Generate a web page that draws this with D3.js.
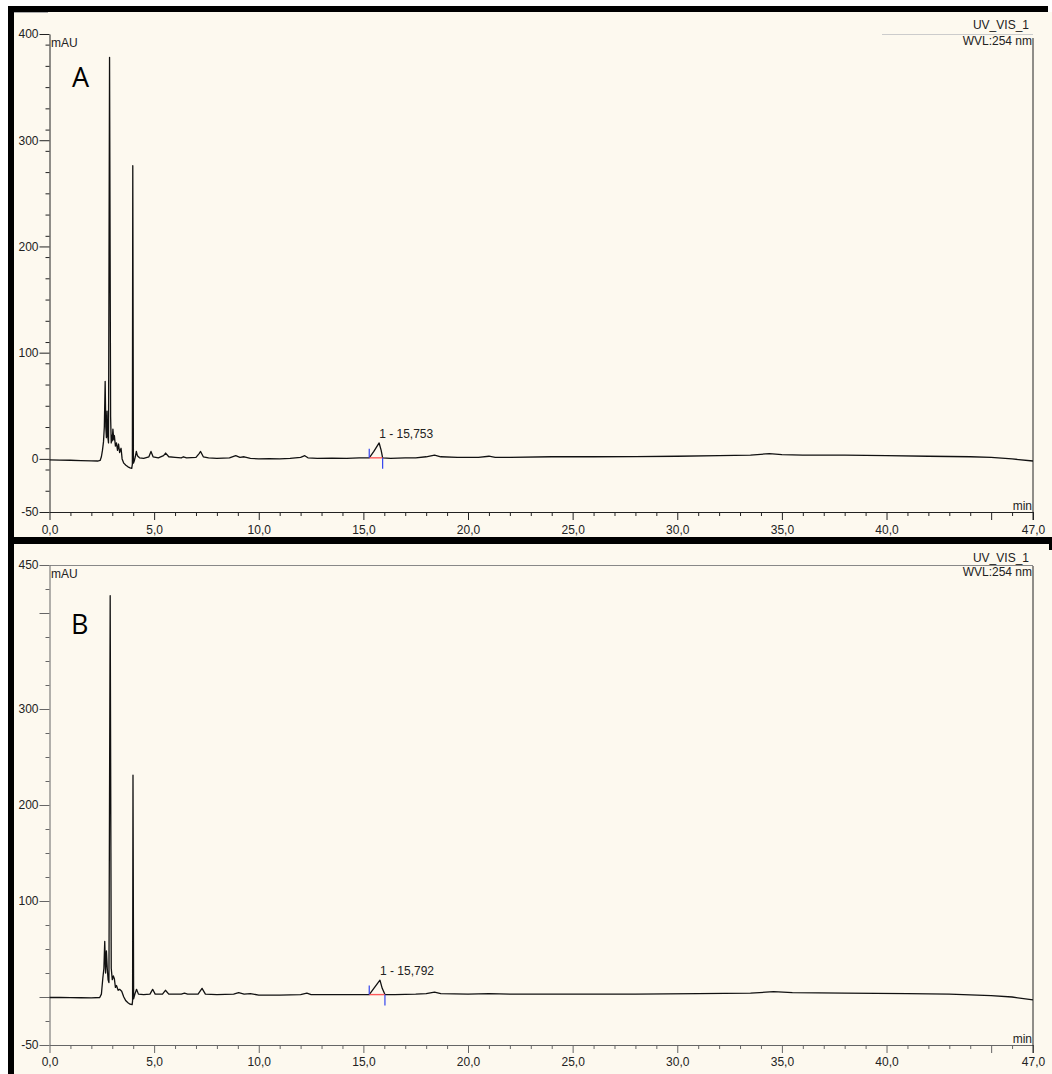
<!DOCTYPE html>
<html>
<head>
<meta charset="utf-8">
<script src="https://cdn.jsdelivr.net/npm/d3@7"></script>
<style>
  html, body { margin: 0; padding: 0; background: #fff; }
  svg { display: block; }
  .tick text { font-family: "Liberation Sans", Arial, sans-serif; font-size: 12px; fill: #222; }
  .lbl { font-family: "Liberation Sans", Arial, sans-serif; font-size: 12px; fill: #222; }
</style>
</head>
<body>
<div id="chart"></div>
<script>
// run A, time (min) / absorbance (mAU)
const traceA = [
  [0.0, -1], [0.5, -1.2], [1.0, -1.3], [1.5, -1.6], [2.0, -1.8], [2.3, -2], [2.42, -1.5],
  [2.48, 2], [2.53, 8], [2.58, 16], [2.62, 30], [2.66, 73], [2.69, 30], [2.72, 20], [2.75, 45],
  [2.78, 22], [2.82, 15], [2.87, 378], [2.92, 40], [2.95, 15], [2.98, 22], [3.0, 17], [3.03, 28],
  [3.07, 18], [3.1, 22], [3.15, 12], [3.2, 15], [3.25, 8], [3.3, 14], [3.35, 6], [3.42, 10],
  [3.47, 0], [3.55, -4], [3.65, -6], [3.75, -7.5], [3.85, -8.5], [3.93, -9], [3.96, -5],
  [3.98, 276], [4.01, -4], [4.05, -2], [4.1, 2], [4.15, 7], [4.2, 3], [4.3, 1], [4.5, 0.5],
  [4.75, 2], [4.85, 7], [4.95, 2], [5.2, 1], [5.45, 3], [5.55, 5.5], [5.7, 2], [6.0, 1.5],
  [6.3, 1], [6.4, 2], [6.55, 1], [7.0, 1.5], [7.15, 5], [7.22, 7], [7.35, 2], [7.6, 1],
  [8.0, 0.5], [8.6, 1], [8.9, 3], [9.1, 1.5], [9.3, 2], [9.6, 0.5], [10.0, 0], [10.5, 0.3],
  [11.0, 0], [11.5, 0.5], [12.0, 1.5], [12.2, 3], [12.35, 1], [12.8, 0.5], [13.5, 0.8],
  [14.2, 0.5], [14.8, 1], [15.28, 1], [15.5, 7], [15.753, 15], [15.85, 8], [15.92, 1],
  [16.3, 0.5], [17.0, 1], [17.5, 1], [18.0, 2], [18.4, 3.5], [18.7, 2], [19.5, 1.5],
  [20.5, 1.5], [21.0, 2.5], [21.3, 1.5], [22.0, 1.5], [24.0, 2], [26.0, 2], [28.0, 2.2],
  [30.0, 2.5], [32.0, 3], [33.5, 3.5], [34.4, 5], [35.0, 4], [36.0, 3.5], [38.0, 3.5],
  [40.0, 3], [42.0, 2.5], [44.0, 2], [45.0, 1.5], [46.0, 0], [47.0, -2]
];

// run B
const traceB = [
  [0.0, -0.5], [0.5, -0.5], [1.0, -0.7], [1.5, -0.8], [2.0, -1], [2.4, -0.5], [2.48, 3],
  [2.55, 20], [2.6, 30], [2.64, 58], [2.68, 25], [2.72, 48], [2.76, 30], [2.8, 18], [2.84, 15],
  [2.9, 418], [2.95, 30], [3.0, 18], [3.05, 22], [3.1, 19], [3.15, 10], [3.2, 12], [3.28, 7],
  [3.35, 8], [3.45, 6], [3.55, 0], [3.65, -4], [3.75, -6], [3.85, -7.5], [3.95, -8], [3.97, -4],
  [3.99, 231], [4.02, -2], [4.08, 3], [4.16, 8], [4.25, 3], [4.5, 2.5], [4.8, 3], [4.93, 8],
  [5.05, 3], [5.4, 3], [5.54, 7], [5.7, 3], [6.3, 3], [6.45, 4], [6.6, 3], [7.1, 3], [7.29, 9],
  [7.45, 3], [8.0, 2.5], [8.8, 3], [9.04, 4.5], [9.3, 3], [9.6, 3.5], [10.0, 2], [11.0, 2],
  [12.0, 2.5], [12.3, 4], [12.5, 2.5], [13.5, 2.5], [14.5, 2.5], [15.28, 2.5], [15.5, 9],
  [15.792, 17.5], [15.9, 9], [16.03, 2.5], [16.5, 2.5], [17.5, 3], [18.0, 3.5], [18.4, 5],
  [18.7, 3.5], [20.0, 3], [21.0, 3.5], [22.0, 3], [25.0, 3], [28.0, 3], [31.0, 3.5],
  [33.5, 4], [34.6, 5.5], [35.5, 4.5], [38.0, 4], [41.0, 3.5], [43.0, 3], [45.0, 1.5],
  [46.0, 0], [47.0, -3]
];

// integrated peaks: label, retention time, start/end of integration
const peakA = { label: "1 - 15,753", rt: 15.753, start: 15.28, end: 15.92 };
const peakB = { label: "1 - 15,792", rt: 15.792, start: 15.28, end: 16.03 };

const xMajor = [0, 5, 10, 15, 20, 25, 30, 35, 40, 45, 47];
const xLabelled = [0, 5, 10, 15, 20, 25, 30, 35, 40, 47];

const yMajorA = [-50, 0, 100, 200, 300, 400];
const yLabelA = [-50, 0, 100, 200, 300, 400];
const yMajorB = [-50, 0, 100, 200, 300, 400, 450];
const yLabelB = [-50, 100, 200, 300, 450];

const W = 1052, H = 1074;
const svg = d3.select("#chart").append("svg").attr("width", W).attr("height", H);

// panel backgrounds and the black frame
svg.append("rect").attr("x", 0).attr("y", 0).attr("width", W).attr("height", H).attr("fill", "#fff");
svg.append("rect").attr("x", 14).attr("y", 12).attr("width", W - 14).attr("height", 525).attr("fill", "#fdf9ef");
svg.append("rect").attr("x", 14).attr("y", 544).attr("width", W - 14).attr("height", H - 544).attr("fill", "#fdf9ef");
svg.append("line").attr("x1", 14).attr("x2", 48).attr("y1", 12.5).attr("y2", 12.5).attr("stroke", "#aaa");
svg.append("rect").attr("x", 8).attr("y", 6).attr("width", 1040).attr("height", 6).attr("fill", "#000");
svg.append("rect").attr("x", 8).attr("y", 6).attr("width", 6).attr("height", H - 6).attr("fill", "#000");
svg.append("rect").attr("x", 8).attr("y", 537).attr("width", W - 8).attr("height", 7).attr("fill", "#000");
svg.append("rect").attr("x", 1049).attr("y", 544).attr("width", 3).attr("height", 6).attr("fill", "#000");

const xFmt = d => xLabelled.includes(d) ? d.toFixed(1).replace(".", ",") : "";

function drawPanel(p) {
  const g = svg.append("g");
  const x = d3.scaleLinear().domain([0, 47]).range([49.5, 1033]);
  const y = d3.scaleLinear().domain(p.yDomain).range([p.yBottom, p.yTop]);

  // separator line at top of panel
  g.append("line")
    .attr("x1", p.topLineFrom).attr("x2", 1033)
    .attr("y1", p.topLineY).attr("y2", p.topLineY)
    .attr("stroke", p.topLineColor).attr("stroke-width", 1);

  // minor ticks
  const yMinor = d3.range(p.yDomain[0], p.yDomain[1], p.yStep).filter(v => !p.yMajor.includes(v));
  g.append("g").attr("transform", `translate(49.5,0)`)
    .call(d3.axisLeft(y).tickValues(yMinor).tickSize(4).tickFormat("").tickSizeOuter(0))
    .call(a => a.select(".domain").remove())
    .selectAll("line").attr("stroke", p.axisColor);
  const xMinor = d3.range(1, 47, 1).filter(v => !xMajor.includes(v));
  g.append("g").attr("transform", `translate(0,${p.yBottom})`)
    .call(d3.axisBottom(x).tickValues(xMinor).tickSize(4).tickFormat("").tickSizeOuter(0))
    .call(a => a.select(".domain").remove())
    .selectAll("line").attr("stroke", p.axisColor);

  // major ticks + labels
  const yAx = g.append("g").attr("transform", `translate(49.5,0)`)
    .call(d3.axisLeft(y).tickValues(p.yMajor).tickSize(10).tickPadding(1).tickSizeOuter(0)
      .tickFormat(d => p.yLabels.includes(d) ? d : ""));
  yAx.select(".domain").attr("stroke", p.axisColor);
  yAx.selectAll("line").attr("stroke", p.axisColor);

  const xAx = g.append("g").attr("transform", `translate(0,${p.yBottom})`)
    .call(d3.axisBottom(x).tickValues(xMajor).tickSize(8).tickPadding(p.xPad).tickSizeOuter(0)
      .tickFormat(xFmt));
  xAx.select(".domain").attr("stroke", p.axisColor);
  xAx.selectAll("line").attr("stroke", p.axisColor);

  // right-hand frame line
  g.append("line")
    .attr("x1", 1033).attr("x2", 1033)
    .attr("y1", p.rightLineTop).attr("y2", p.yBottom + 8)
    .attr("stroke", "#222").attr("stroke-width", 1);

  // chromatogram
  const line = d3.line().x(d => x(d[0])).y(d => y(d[1]));
  g.append("path").datum(p.trace)
    .attr("d", line)
    .attr("fill", "none").attr("stroke", "#111").attr("stroke-width", 1.3)
    .attr("stroke-linejoin", "round");

  // integration baseline and delimiters
  const pk = p.peak;
  const at = t => {
    const i = d3.bisector(d => d[0]).left(p.trace, t);
    return p.trace[Math.min(i, p.trace.length - 1)][1];
  };
  const y0 = at(pk.start), y1 = at(pk.end);
  g.append("line")
    .attr("x1", x(pk.start)).attr("x2", x(pk.end))
    .attr("y1", y(y0)).attr("y2", y(y1))
    .attr("stroke", "#ff5a5a").attr("stroke-width", 1.4);
  g.append("line")
    .attr("x1", x(pk.start)).attr("x2", x(pk.start))
    .attr("y1", y(y0)).attr("y2", y(y0) - 9)
    .attr("stroke", "#3344ee").attr("stroke-width", 1.2);
  g.append("line")
    .attr("x1", x(pk.end)).attr("x2", x(pk.end))
    .attr("y1", y(y1)).attr("y2", y(y1) + 11)
    .attr("stroke", "#3344ee").attr("stroke-width", 1.2);
  g.append("text").attr("class", "lbl")
    .attr("x", x(pk.rt)).attr("y", y(at(pk.rt)) - 5)
    .text(pk.label);

  // captions
  g.append("text").attr("class", "lbl").attr("x", 51).attr("y", p.mauY).text("mAU");
  g.append("text").attr("class", "lbl").attr("x", 1029).attr("y", p.uvY)
    .attr("text-anchor", "end").text("UV_VIS_1");
  g.append("text").attr("class", "lbl").attr("x", 1032).attr("y", p.wvlY)
    .attr("text-anchor", "end").text("WVL:254 nm");
  g.append("text").attr("class", "lbl").attr("x", 1032).attr("y", p.yBottom - 2)
    .attr("text-anchor", "end").text("min");
  g.append("text")
    .attr("x", p.letterX).attr("y", p.letterY)
    .attr("font-family", "'Open Sans', sans-serif").attr("font-size", 27).attr("fill", "#000")
    .text(p.letter);
}

drawPanel({
  trace: traceA, peak: peakA, letter: "A", letterX: 72, letterY: 87,
  yDomain: [-50, 400], yTop: 34, yBottom: 512, yStep: 20,
  yMajor: yMajorA, yLabels: yLabelA, axisColor: "#222", xPad: 5,
  topLineFrom: 882, topLineY: 34.5, topLineColor: "#ccc", rightLineTop: 38,
  mauY: 47, uvY: 29, wvlY: 45
});

drawPanel({
  trace: traceB, peak: peakB, letter: "B", letterX: 71, letterY: 634,
  yDomain: [-50, 450], yTop: 565, yBottom: 1045, yStep: 25,
  yMajor: yMajorB, yLabels: yLabelB, axisColor: "#666", xPad: 4,
  topLineFrom: 49.5, topLineY: 565.5, topLineColor: "#888", rightLineTop: 566,
  mauY: 578, uvY: 562, wvlY: 576
});
</script>
</body>
</html>
